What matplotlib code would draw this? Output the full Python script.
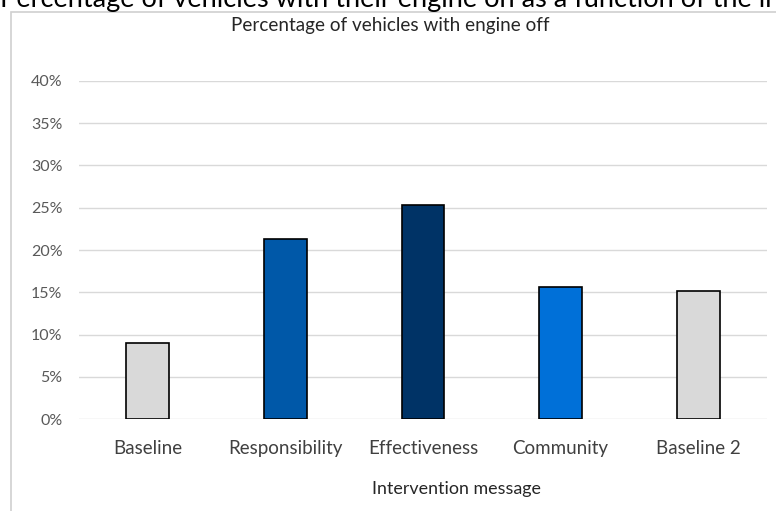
import matplotlib.pyplot as plt
import matplotlib.patches as mpatches
from matplotlib.ticker import PercentFormatter

# ---------- Data ----------
messages = ["Baseline", "Responsibility", "Effectiveness", "Community", "Baseline 2"]
pct_engine_off = [9.0, 21.3, 25.3, 15.6, 15.2]
bar_colors = ["#d9d9d9", "#0058a8", "#003366", "#0070d8", "#d9d9d9"]
y_ticks = [0, 5, 10, 15, 20, 25, 30, 35, 40]

plt.rcParams["font.family"] = ["Lato", "DejaVu Sans"]

W, H = 776, 511
fig = plt.figure(figsize=(W / 100, H / 100), dpi=100)

# chart frame (runs off the right and bottom edges)
frame = mpatches.Rectangle((11 / W, -0.1), 1.0, (H - 12) / H + 0.1,
                           transform=fig.transFigure, fill=False,
                           edgecolor="#d0d0d0", linewidth=1.2)
fig.patches.append(frame)

# caption above the chart, cut off by the page edge as in the source
fig.text(0.0, (H - 7) / H, "Percentage of vehicles with their engine on as a function of the intervention message",
         fontsize=19.5, color="black", ha="left", va="baseline")

ax = fig.add_axes([79 / W, (H - 419) / H, (767 - 79) / W, (419 - 81) / H])
x = range(len(messages))
ax.bar(x, pct_engine_off, width=0.31, color=bar_colors, edgecolor="black", linewidth=1.2, zorder=3)

ax.set_xlim(-0.5, len(messages) - 0.5)
ax.set_ylim(0, 40)
ax.set_yticks(y_ticks)
ax.yaxis.set_major_formatter(PercentFormatter(decimals=0))
ax.set_xticks(list(x))
ax.set_xticklabels(messages, fontsize=13.5, color="#404040")
ax.tick_params(axis="y", labelsize=11.5, colors="#595959", length=0, pad=12)
ax.tick_params(axis="x", length=0, pad=15)

ax.grid(axis="y", color="#d9d9d9", linewidth=1.0, zorder=0)
for s in ax.spines.values():
    s.set_visible(False)

# chart title and axis title, placed as in the source
fig.text(390 / W, (H - 25) / H, "Percentage of vehicles with engine off",
         fontsize=13.6, color="#262626", ha="center", va="center")
fig.text(457 / W, (H - 489) / H, "Intervention message",
         fontsize=12.9, color="#262626", ha="center", va="center")

fig.savefig("out.png", dpi=100)
